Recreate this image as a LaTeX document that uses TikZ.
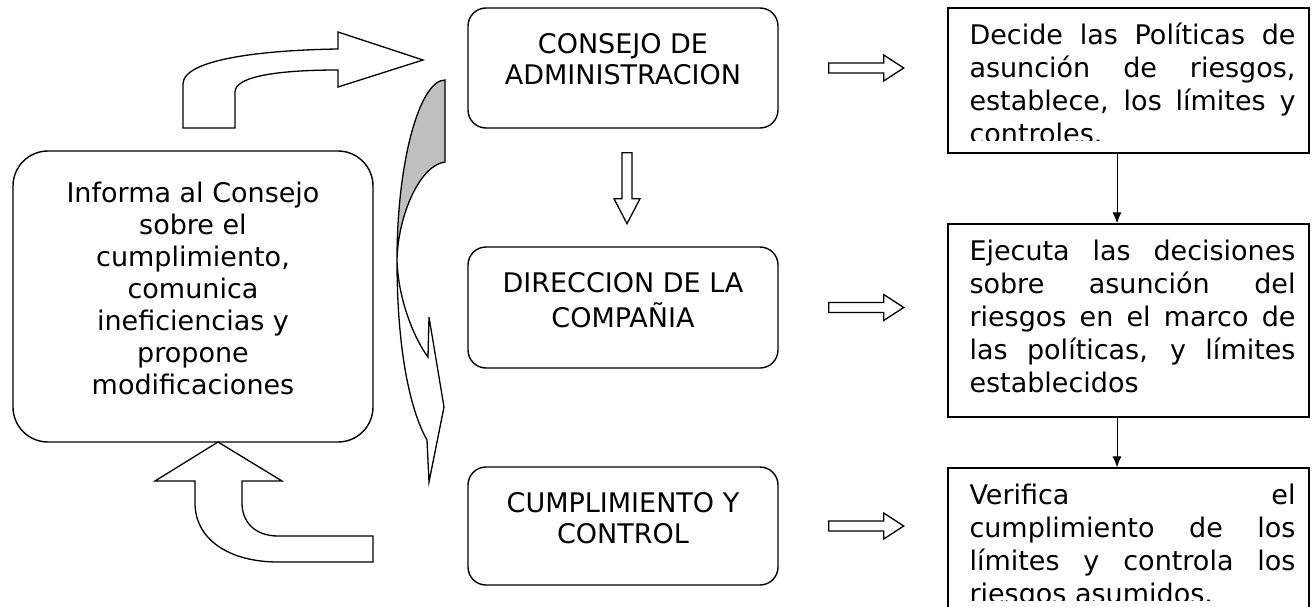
\documentclass[tikz,border=0pt]{standalone}
\usepackage{fontspec}
\setmainfont{DejaVu Sans}
\usepackage{tikz}
\usetikzlibrary{calc,arrows.meta,positioning}
\pretolerance=10000
\hyphenpenalty=10000

\tikzset{
  rbox/.style={draw, line width=1.4pt, minimum width=361pt, inner sep=0pt},
  cbox/.style={draw, line width=1.4pt, rounded corners=18pt, minimum width=310pt, inner sep=0pt},
  ctext/.style={anchor=north, align=center, inner sep=0pt, font=\fontsize{27}{31}\selectfont},
  ltext/.style={anchor=north, align=center, inner sep=0pt, font=\fontsize{27}{32}\selectfont},
  rtext/.style={anchor=north west, text width=326pt, align=justify, inner sep=0pt, font=\fontsize{27}{33}\selectfont},
  hollow/.style={draw, line width=1.3pt, fill=white, line join=miter},
  thinarrow/.style={line width=0.9pt, -{Latex[length=11pt,width=9pt]}}
}

\begin{document}
\begin{tikzpicture}[x=1pt,y=-1pt]
\useasboundingbox (0,0) rectangle (1314,607);

% left box
\node[cbox, rounded corners=35pt, minimum width=360pt, minimum height=291pt] (informa) at (193,296.5) {};
\node[ltext] (informa-t) at ([yshift=-29.6pt]informa.north) {\strut Informa al Consejo\\sobre el\\cumplimiento,\\comunica\\ineficiencias y\\propone\\modificaciones};

% center column
\node[cbox, minimum height=120pt] (consejo) at (623,68) {};
\node[cbox, minimum height=121pt] (direccion) at (623,307.5) {};
\node[cbox, minimum height=118pt] (cumplimiento) at (623,526) {};
\node[ctext] (consejo-t) at ([yshift=-24.3pt]consejo.north) {\strut CONSEJO DE\\ADMINISTRACION};
\node[ctext] (direccion-t) at ([yshift=-24.3pt]direccion.north) {\strut DIRECCION DE LA\\COMPAÑIA};
\node[ctext] (cumplimiento-t) at ([yshift=-24.3pt]cumplimiento.north) {\strut CUMPLIMIENTO Y\\CONTROL};

% right column
\node[rbox, minimum height=145pt] (decide) at (1128.5,80.5) {};
\node[rbox, minimum height=193pt] (ejecuta) at (1128.5,320.5) {};
\node[rbox, minimum height=170pt] (verifica) at (1128.5,553) {};
\begin{scope}
  \clip ([yshift=13pt]decide.south west) rectangle (decide.north east);
  \node[rtext] (decide-t) at ([xshift=22pt,yshift=-13.9pt]decide.north west) {\strut Decide las Políticas de\linebreak asunción de riesgos,\linebreak establece, los límites y\linebreak controles.};
\end{scope}
\node[rtext] (ejecuta-t) at ([xshift=22pt,yshift=-13.9pt]ejecuta.north west) {\strut Ejecuta las decisiones\linebreak sobre asunción del\linebreak riesgos en el marco de\linebreak las políticas, y límites\linebreak establecidos};
\begin{scope}
  \clip ($(verifica.south west)+(0,-38)$) rectangle (verifica.north east);
  \node[rtext] (verifica-t) at ([xshift=22pt,yshift=-13.9pt]verifica.north west) {\strut Verifica el\linebreak cumplimiento de los\linebreak límites y controla los\linebreak riesgos asumidos.};
\end{scope}

\draw[thinarrow] ([xshift=-11.5pt]decide.south) -- ([xshift=-11.5pt]ejecuta.north);
\draw[thinarrow] ([xshift=-11.5pt]ejecuta.south) -- ([xshift=-11.5pt]verifica.north);

% block arrows
\foreach \n in {consejo,direccion,cumplimiento}
  \draw[hollow] ($(\n.east)+(50,-5)$) -- ++(55,0) -- ++(0,-8) -- ++(20,13) -- ++(-20,13) -- ++(0,-8) -- ++(-55,0) -- cycle;
\draw[hollow] ($(consejo.south)+(-1,24)$) -- ++(10,0) -- ++(0,46) -- ++(8,0) -- ++(-13,25) -- ++(-13,-25) -- ++(8,0) -- cycle;

% curved arrows
\draw[hollow] (183,128) -- (183,84) .. controls (183,58) and (270,50) .. (338,49) -- (338,32) -- (423,60) -- (338,87) -- (338,70) .. controls (280,70) and (235,76) .. (235,92) -- (235,128) -- cycle;
\draw[hollow] (218,442) -- (282,481) -- (242,481) -- (242,503) .. controls (242,522) and (255,536) .. (278,536) -- (373,536) -- (373,562) -- (278,562) .. controls (230,562) and (195,540) .. (195,503) -- (195,481) -- (155,481) -- cycle;
\filldraw[line width=1.3pt, fill=gray!50] (445,80) .. controls (420,80) and (397,160) .. (397,260) .. controls (398,215) and (420,165) .. (445,162) -- cycle;
\draw[hollow] (397,260) .. controls (397,350) and (410,410) .. (427,440) -- (429,482) -- (444,407) -- (429,317) -- (428,357) .. controls (415,340) and (398,300) .. (397,260) -- cycle;
\end{tikzpicture}
\end{document}
